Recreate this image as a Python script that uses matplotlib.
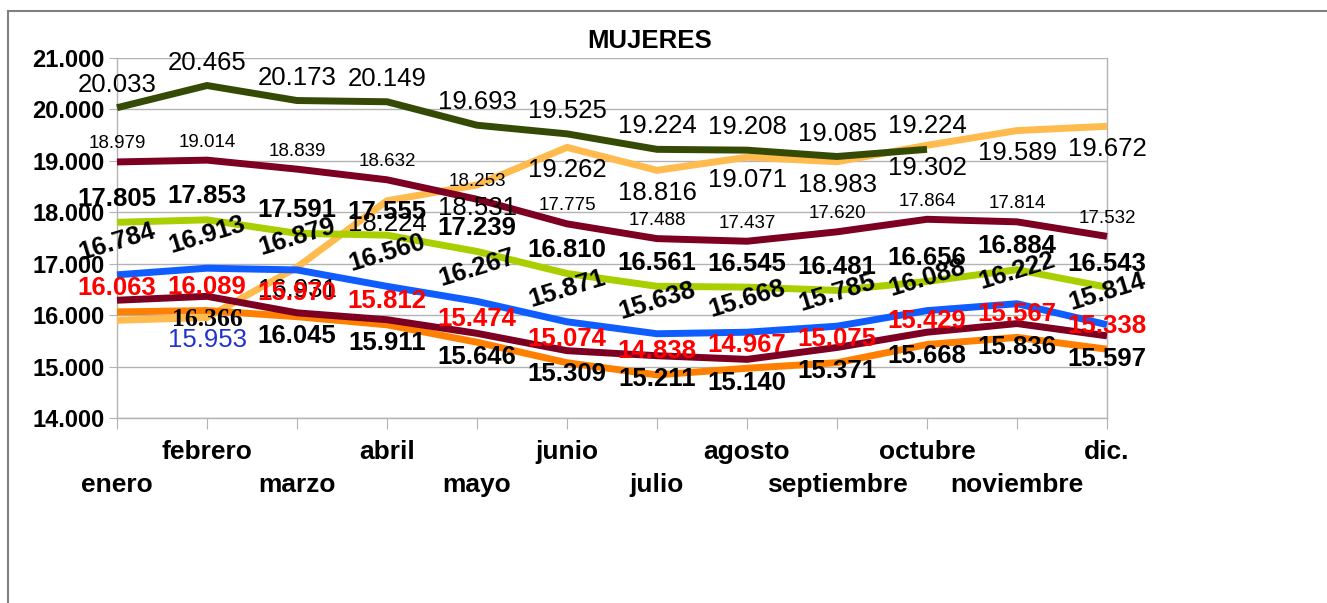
import matplotlib
matplotlib.use("Agg")
import matplotlib.pyplot as plt
from matplotlib.lines import Line2D
from matplotlib.ticker import FuncFormatter
import numpy as np

plt.rcParams['font.family'] = ['Liberation Sans', 'DejaVu Sans']

# ---- datos ----
meses = ['enero', 'febrero', 'marzo', 'abril', 'mayo', 'junio', 'julio',
         'agosto', 'septiembre', 'octubre', 'noviembre', 'dic.']

verde_oscuro = [20033, 20465, 20173, 20149, 19693, 19525, 19224, 19208, 19085, 19224]
naranja_claro = [15900, 15953, 16931, 18224, 18531, 19262, 18816, 19071, 18983, 19302, 19589, 19672]
granate_sup = [18979, 19014, 18839, 18632, 18253, 17775, 17488, 17437, 17620, 17864, 17814, 17532]
verde_lima = [17805, 17853, 17591, 17555, 17239, 16810, 16561, 16545, 16481, 16656, 16884, 16543]
azul = [16784, 16913, 16879, 16560, 16267, 15871, 15638, 15668, 15785, 16088, 16222, 15814]
naranja = [16063, 16089, 15970, 15812, 15474, 15074, 14838, 14967, 15075, 15429, 15567, 15338]
granate_inf = [16290, 16366, 16045, 15911, 15646, 15309, 15211, 15140, 15371, 15668, 15836, 15597]

def fmt(v):
    return f"{v:,.0f}".replace(",", ".")

fig = plt.figure(figsize=(13.27, 6.03), dpi=100)
ax = fig.add_axes([117 / 1327, 1 - 418 / 603, 990 / 1327, 360 / 603])

x = np.arange(len(meses))
lw = 5

# orden de dibujo: las ultimas quedan encima
series = [
    (naranja_claro, '#ffbb4d'),
    (naranja, '#ff7f00'),
    (granate_inf, '#7d0022'),
    (azul, '#0f5cff'),
    (verde_lima, '#aacf00'),
    (granate_sup, '#7d0022'),
    (verde_oscuro, '#354a05'),
]
for vals, col in series:
    ax.plot(x[:len(vals)], vals, color=col, lw=lw, solid_joinstyle='miter',
            solid_capstyle='butt', clip_on=False, zorder=3)

def etiquetas(vals, dy, size, weight='normal', color='black', rot=0,
              skip=(), colores=None, familias=None):
    for i, v in enumerate(vals):
        if i in skip:
            continue
        c = colores.get(i, color) if colores else color
        kw = {}
        if familias and i in familias:
            kw['family'] = familias[i]
        ax.annotate(fmt(v), (x[i], v), xytext=(0, dy), textcoords='offset points',
                    ha='center', va='center', fontsize=size, fontweight=weight,
                    color=c, rotation=rot, rotation_mode='anchor',
                    annotation_clip=False, zorder=10, **kw)

etiquetas(verde_oscuro, 16.5, 18.5)
etiquetas(naranja_claro, -16.5, 18.5, skip=(0,), colores={1: '#2233cc'})
etiquetas(granate_sup, 13, 13.5)
etiquetas(verde_lima, 17, 18.5, weight='bold')
etiquetas(azul, 24, 18.5, weight='bold', rot=17)
etiquetas(naranja, 17, 18.5, weight='bold', color='#ff0000')
etiquetas(granate_inf, -17, 18.5, weight='bold', skip=(0,),
          familias={1: ['Liberation Serif', 'DejaVu Serif']})

# ejes
ax.set_xlim(0, 11)
ax.set_ylim(14000, 21000)
ax.set_yticks(np.arange(14000, 21001, 1000))
ax.yaxis.set_major_formatter(FuncFormatter(lambda v, p: fmt(v)))
ax.grid(axis='y', color='#b3b3b3', lw=1, zorder=0)
ax.set_axisbelow(True)
ax.spines['top'].set_visible(False)
for s in ['left', 'right', 'bottom']:
    ax.spines[s].set_color('#b3b3b3')
    ax.spines[s].set_linewidth(1)

ax.set_xticks(x)
ax.set_xticklabels([m if i % 2 else '\n' + m for i, m in enumerate(meses)],
                   fontsize=19, fontweight='bold', linespacing=1.45)
ax.tick_params(axis='x', length=8, color='#b3b3b3', pad=8)
ax.tick_params(axis='y', length=6, color='#b3b3b3', pad=3, labelsize=17)
for t in ax.get_yticklabels():
    t.set_fontweight('bold')

fig.text(650 / 1327, 1 - 41 / 603, 'MUJERES', ha='center', va='center',
         fontsize=18.5, fontweight='bold')

# marco exterior
fig.add_artist(Line2D([8 / 1327, 8 / 1327], [0, 1 - 11 / 603], color='#808080', lw=1.5))
fig.add_artist(Line2D([8 / 1327, 1], [1 - 11 / 603, 1 - 11 / 603], color='#808080', lw=1.5))

fig.savefig('out.png', dpi=100, facecolor='white')
